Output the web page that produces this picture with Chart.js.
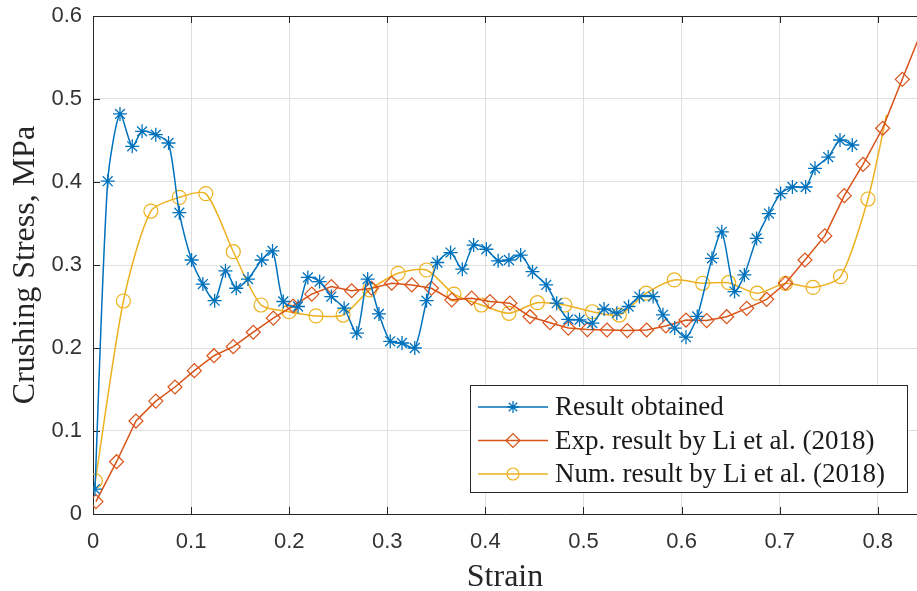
<!DOCTYPE html>
<html>
<head>
<meta charset="utf-8">
<script src="https://cdn.jsdelivr.net/npm/chart.js@4.4.0/dist/chart.umd.min.js"></script>
<style>
  html, body { margin: 0; padding: 0; background: #fff; }
</style>
</head>
<body>
<canvas id="chart" width="917" height="591"></canvas>
<script>
// tick values
const xTicks = [0, 0.1, 0.2, 0.3, 0.4, 0.5, 0.6, 0.7, 0.8];
const yTicks = [0, 0.1, 0.2, 0.3, 0.4, 0.5, 0.6];

const seriesLabels = [
  'Result obtained',
  'Exp. result by Li et al. (2018)',
  'Num. result by Li et al. (2018)'
];

// Result obtained
const obtainedStrain = [0.002, 0.015, 0.0275, 0.040, 0.050, 0.064, 0.077, 0.088, 0.1005, 0.112,
  0.124, 0.135, 0.146, 0.158, 0.172, 0.183, 0.194, 0.209, 0.219, 0.231,
  0.243, 0.256, 0.269, 0.280, 0.2915, 0.303, 0.315, 0.328, 0.340, 0.351,
  0.3645, 0.3765, 0.388, 0.401, 0.413, 0.424, 0.436, 0.448, 0.462, 0.4727,
  0.4845, 0.496, 0.509, 0.521, 0.534, 0.546, 0.557, 0.571, 0.581, 0.593,
  0.6045, 0.616, 0.631, 0.641, 0.654, 0.664, 0.6765, 0.689, 0.701, 0.713,
  0.7265, 0.736, 0.7495, 0.7615, 0.774];
const obtainedStress = [0.030, 0.401, 0.482, 0.443, 0.461, 0.457, 0.447, 0.363, 0.306, 0.277,
  0.257, 0.293, 0.272, 0.283, 0.306, 0.317, 0.256, 0.250, 0.285, 0.280,
  0.262, 0.248, 0.218, 0.283, 0.241, 0.208, 0.206, 0.200, 0.257, 0.303,
  0.315, 0.295, 0.324, 0.319, 0.305, 0.306, 0.312, 0.292, 0.276, 0.254,
  0.2345, 0.234, 0.230, 0.247, 0.242, 0.250, 0.262, 0.262, 0.240, 0.224,
  0.213, 0.238, 0.308, 0.340, 0.268, 0.288, 0.332, 0.362, 0.386, 0.394,
  0.394, 0.4165, 0.430, 0.4506, 0.4446];

// Exp. result by Li et al. (2018)
const expStrain = [0.003, 0.024, 0.0438, 0.064, 0.0836, 0.1033, 0.1233, 0.143, 0.1634, 0.1838,
  0.204, 0.223, 0.243, 0.2637, 0.284, 0.3045, 0.325, 0.345, 0.3657, 0.386,
  0.4047, 0.425, 0.4455, 0.4659, 0.4845, 0.504, 0.524, 0.5447, 0.5644, 0.584,
  0.6045, 0.6256, 0.646, 0.6664, 0.6867, 0.706, 0.7258, 0.746, 0.7659, 0.785,
  0.805, 0.825, 0.845];
const expStress = [0.015, 0.063, 0.112, 0.136, 0.153, 0.1727, 0.1907, 0.2016, 0.219, 0.236,
  0.2506, 0.265, 0.274, 0.269, 0.272, 0.278, 0.276, 0.272, 0.258, 0.260,
  0.256, 0.254, 0.2377, 0.2305, 0.224, 0.2222, 0.2217, 0.221, 0.2217, 0.2265,
  0.2337, 0.233, 0.2377, 0.2478, 0.2586, 0.278, 0.306, 0.335, 0.3835, 0.4213,
  0.4647, 0.5237, 0.583];

// Num. result by Li et al. (2018)
const numStrain = [0.0024, 0.031, 0.059, 0.088, 0.115, 0.143, 0.1713, 0.200, 0.2273, 0.255,
  0.282, 0.311, 0.340, 0.368, 0.396, 0.424, 0.453, 0.481, 0.509, 0.5365,
  0.564, 0.5926, 0.6215, 0.648, 0.677, 0.706, 0.734, 0.762, 0.790, 0.809];
const numStress = [0.040, 0.2566, 0.365, 0.3815, 0.386, 0.316, 0.2518, 0.2437, 0.2387, 0.2397,
  0.270, 0.290, 0.294, 0.265, 0.2518, 0.2418, 0.2546, 0.2518, 0.2437, 0.2397,
  0.266, 0.282, 0.278, 0.2787, 0.266, 0.278, 0.273, 0.286, 0.3795, 0.481];

const X_MAX = 0.84;
const AXIS_COLOR = '#262626';
const GRID_COLOR = '#dfdfdf';

const toPoints = (xs, ys) => xs.map((x, i) => ({ x: x, y: ys[i] }));

// markers: hide the ones past the x limit and the final unmarked num vertex
const markerRadius = (r, skipLast) => (ctx) => {
  const data = ctx.dataset.data;
  if (ctx.raw && ctx.raw.x > X_MAX) return 0;
  if (skipLast && ctx.dataIndex === data.length - 1) return 0;
  return r;
};

// MATLAB-like box: inward ticks + top border
const boxPlugin = {
  id: 'matlabBox',
  beforeDatasetsDraw(chart) {
    const { ctx, chartArea: a, scales } = chart;
    ctx.save();
    ctx.strokeStyle = AXIS_COLOR;
    ctx.lineWidth = 1;
    ctx.beginPath();
    ctx.moveTo(a.left, a.top + 0.5);
    ctx.lineTo(a.right, a.top + 0.5);
    xTicks.forEach(v => {
      const px = Math.round(scales.x.getPixelForValue(v)) + 0.5;
      ctx.moveTo(px, a.bottom);
      ctx.lineTo(px, a.bottom - 7);
      ctx.moveTo(px, a.top);
      ctx.lineTo(px, a.top + 7);
    });
    yTicks.forEach(v => {
      const py = Math.round(scales.y.getPixelForValue(v)) + 0.5;
      ctx.moveTo(a.left, py);
      ctx.lineTo(a.left + 7, py);
    });
    ctx.stroke();
    ctx.restore();
  }
};

// legend box inside the axes, bottom right
const legendPlugin = {
  id: 'insideLegend',
  afterDraw(chart) {
    const { ctx, chartArea: a } = chart;
    const w = 437, h = 107;
    const right = a.right - 10, bottom = a.bottom - 22;
    const left = right - w, top = bottom - h;
    ctx.save();
    ctx.fillStyle = '#fff';
    ctx.fillRect(left, top, w, h);
    ctx.strokeStyle = AXIS_COLOR;
    ctx.lineWidth = 1;
    ctx.strokeRect(left + 0.5, top + 0.5, w, h);
    ctx.font = '27px "Liberation Serif", "Times New Roman", serif';
    ctx.textBaseline = 'middle';
    chart.data.datasets.forEach((ds, i) => {
      const y = top + 22 + i * 33.5;
      ctx.strokeStyle = ds.borderColor;
      ctx.lineWidth = ds.borderWidth;
      ctx.beginPath();
      ctx.moveTo(left + 8, y);
      ctx.lineTo(left + 78, y);
      ctx.stroke();
      ctx.lineWidth = ds.pointBorderWidth;
      ctx.fillStyle = 'rgba(0,0,0,0)';
      Chart.helpers.drawPoint(ctx, {
        pointStyle: ds.pointStyle,
        radius: ds.legendRadius,
        borderWidth: ds.pointBorderWidth,
        rotation: 0
      }, left + 43, y);
      ctx.fillStyle = '#1a1a1a';
      ctx.fillText(ds.label, left + 85, y + 1);
    });
    ctx.restore();
  }
};

new Chart(document.getElementById('chart'), {
  type: 'line',
  data: {
    datasets: [
      {
        label: seriesLabels[0],
        data: toPoints(obtainedStrain, obtainedStress),
        borderColor: '#0072BD',
        borderWidth: 1.5,
        tension: 0.25,
        pointStyle: 'star',
        pointRadius: markerRadius(7, false),
        legendRadius: 6,
        pointBorderColor: '#0072BD',
        pointBackgroundColor: 'rgba(0,0,0,0)',
        pointBorderWidth: 1.3
      },
      {
        label: seriesLabels[1],
        data: toPoints(expStrain, expStress),
        borderColor: '#D95319',
        borderWidth: 1.5,
        tension: 0,
        pointStyle: 'rectRot',
        pointRadius: markerRadius(7, false),
        legendRadius: 7,
        pointBorderColor: '#D95319',
        pointBackgroundColor: 'rgba(0,0,0,0)',
        pointBorderWidth: 1.2
      },
      {
        label: seriesLabels[2],
        data: toPoints(numStrain, numStress),
        borderColor: '#EDB120',
        borderWidth: 1.5,
        tension: 0.25,
        pointStyle: 'circle',
        pointRadius: markerRadius(7, true),
        legendRadius: 6,
        pointBorderColor: '#EDB120',
        pointBackgroundColor: 'rgba(0,0,0,0)',
        pointBorderWidth: 1.2
      }
    ]
  },
  options: {
    responsive: false,
    animation: false,
    devicePixelRatio: 1,
    layout: { autoPadding: false, padding: { top: 16, right: 0, bottom: 0, left: 0 } },
    plugins: {
      legend: { display: false },
      tooltip: { enabled: false }
    },
    scales: {
      x: {
        type: 'linear',
        min: 0,
        max: X_MAX,
        afterBuildTicks: s => { s.ticks = xTicks.map(v => ({ value: v })); },
        afterFit: s => { s.height = 77; s.paddingLeft = 0; s.paddingRight = 0; },
        ticks: {
          autoSkip: false,
          maxRotation: 0,
          padding: 15,
          color: '#333',
          font: { family: '"Liberation Sans", Arial, sans-serif', size: 22 },
          callback: v => String(v)
        },
        grid: { color: GRID_COLOR, drawTicks: false },
        border: { color: AXIS_COLOR, width: 1 },
        title: {
          display: true,
          text: 'Strain',
          color: AXIS_COLOR,
          font: { family: '"Liberation Serif", "Times New Roman", serif', size: 32, lineHeight: 1 },
          padding: { top: 0, bottom: -3 }
        }
      },
      y: {
        type: 'linear',
        min: 0,
        max: 0.6,
        afterBuildTicks: s => { s.ticks = yTicks.map(v => ({ value: v })); },
        afterFit: s => { s.width = 93; s.paddingTop = 0; s.paddingBottom = 0; },
        ticks: {
          padding: 11,
          color: '#333',
          font: { family: '"Liberation Sans", Arial, sans-serif', size: 22 },
          callback: v => String(v)
        },
        grid: { color: GRID_COLOR, drawTicks: false },
        border: { color: AXIS_COLOR, width: 1 },
        title: {
          display: true,
          text: 'Crushing Stress, MPa',
          color: AXIS_COLOR,
          font: { family: '"Liberation Serif", "Times New Roman", serif', size: 32, lineHeight: 1.2 },
          padding: { top: 6, bottom: 0 }
        }
      }
    }
  },
  plugins: [boxPlugin, legendPlugin]
});
</script>
</body>
</html>
